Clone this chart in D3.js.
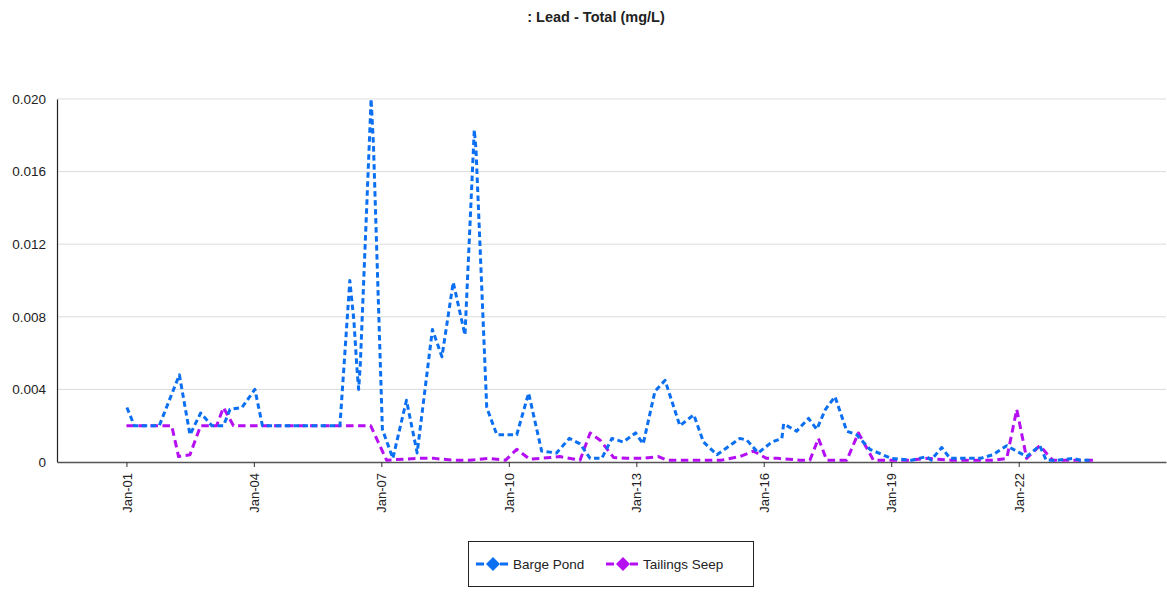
<!DOCTYPE html>
<html>
<head>
<meta charset="utf-8">
<script src="https://cdn.jsdelivr.net/npm/d3@7"></script>
<style>
body {margin: 0; background: #fff;}
text {font-family: "Liberation Sans", Arial, sans-serif;}
.grid line {stroke: #dcdcdc;}
</style>
</head>
<body>
<svg id="chart"></svg>
<script>
//data//
var chartTitle = ": Lead - Total (mg/L)";
var seriesNames = ["Barge Pond", "Tailings Seep"];
var seriesColors = ["#0b6ff2", "#b50ef2"];

var bargeDates = ["2001-01-05","2001-03-10","2001-10-10","2002-04-01","2002-07-01","2002-10-01","2003-01-05","2003-04-15","2003-06-10","2003-09-20","2004-01-10","2004-03-15","2004-07-01","2005-01-01","2005-07-01","2006-01-10","2006-04-05","2006-05-10","2006-06-05","2006-06-20","2006-07-05","2006-10-05","2006-10-25","2007-01-10","2007-04-10","2007-08-05","2007-11-05","2008-03-15","2008-06-05","2008-09-10","2008-12-20","2009-03-10","2009-03-25","2009-06-25","2009-09-20","2010-01-10","2010-03-10","2010-06-20","2010-10-10","2011-02-15","2011-06-05","2011-09-05","2011-12-01","2012-03-10","2012-06-05","2012-09-10","2012-12-25","2013-03-01","2013-06-10","2013-09-05","2014-01-10","2014-05-10","2014-08-01","2014-11-25","2015-06-10","2015-08-10","2015-11-15","2016-03-10","2016-06-05","2016-06-20","2016-10-10","2017-01-20","2017-04-01","2017-06-15","2017-09-05","2017-12-15","2018-03-10","2018-07-01","2019-01-01","2019-06-25","2019-11-01","2019-12-10","2020-03-10","2020-05-20","2021-02-05","2021-05-25","2021-09-20","2022-01-10","2022-03-10","2022-07-01","2022-08-25","2022-12-01","2023-04-15","2023-06-15","2023-09-01"];
var bargeValues = [0.003,0.002,0.002,0.0048,0.0015,0.0027,0.002,0.002,0.0029,0.003,0.004,0.002,0.002,0.002,0.002,0.002,0.010,0.0078,0.0052,0.004,0.0055,0.020,0.0175,0.0018,0.0002,0.0034,0.0005,0.0073,0.0058,0.0099,0.007,0.0183,0.0172,0.003,0.0015,0.0015,0.0015,0.0038,0.0006,0.0005,0.0013,0.001,0.0002,0.0002,0.0013,0.0011,0.0016,0.001,0.0039,0.0045,0.002,0.0026,0.0011,0.0004,0.0013,0.0012,0.0005,0.0011,0.0013,0.0021,0.0017,0.0024,0.0018,0.0029,0.0036,0.0017,0.0015,0.0007,0.0002,0.0001,0.0003,0.0001,0.0008,0.0002,0.0002,0.0004,0.0009,0.0005,0.0003,0.0009,0.0001,0.0001,0.0002,0.0001,0.0001];

var seepDates = ["2001-01-01","2002-01-25","2002-03-25","2002-07-01","2002-10-01","2003-02-15","2003-04-15","2003-07-10","2004-01-01","2005-01-01","2006-01-01","2006-10-01","2007-02-15","2007-11-01","2008-04-01","2008-09-01","2009-02-01","2009-07-01","2009-12-05","2010-03-10","2010-07-01","2010-12-25","2011-03-15","2011-09-05","2011-12-01","2012-02-25","2012-06-20","2012-10-10","2013-03-01","2013-07-10","2013-09-20","2014-06-01","2015-01-01","2015-06-10","2015-10-05","2016-01-25","2016-05-01","2016-11-10","2017-02-01","2017-04-15","2017-06-25","2017-12-15","2018-03-25","2018-08-01","2019-06-01","2019-11-01","2020-06-01","2021-06-01","2021-09-20","2021-12-15","2022-03-10","2022-07-01","2022-10-20","2023-10-25"];
var seepValues = [0.002,0.002,0.0003,0.0004,0.002,0.002,0.003,0.002,0.002,0.002,0.002,0.002,0.0001,0.0002,0.0002,0.0001,0.0001,0.0002,0.0001,0.0007,0.00015,0.00025,0.0003,0.0001,0.0016,0.0012,0.00025,0.0002,0.0002,0.0003,0.0001,0.0001,0.0001,0.0003,0.0006,0.0002,0.0002,0.0001,0.0001,0.0013,0.0001,0.0001,0.0016,0.0001,0.0001,0.0002,0.0001,0.0001,0.0002,0.0029,0.0002,0.0009,0.0001,0.0001];

var yTicks = [0, 0.004, 0.008, 0.012, 0.016, 0.020];
var xTickDates = ["2001-01-01","2004-01-01","2007-01-01","2010-01-01","2013-01-01","2016-01-01","2019-01-01","2022-01-01"];
var xDomain = ["1999-05-15", "2025-06-20"];

//variables//
var screen = {width: 1167, height: 592}
var plot = {left: 57, right: 1166, top: 99, bottom: 462}

var parseDate = d3.timeParse("%Y-%m-%d");

var xScale = d3.scaleTime()
               .domain(xDomain.map(parseDate))
               .range([plot.left, plot.right]);

var yScale = d3.scaleLinear()
               .domain([0, 0.020])
               .range([plot.bottom, plot.top]);

var series = [
    {name: seriesNames[0], color: seriesColors[0], dash: "5.5,3.5",
     points: bargeDates.map(function(d, i) { return {date: parseDate(d), value: bargeValues[i]}; })},
    {name: seriesNames[1], color: seriesColors[1], dash: "7.5,4.5",
     points: seepDates.map(function(d, i) { return {date: parseDate(d), value: seepValues[i]}; })}
];

var svg = d3.select("#chart")
            .attr("width", screen.width)
            .attr("height", screen.height);

//title//
svg.append("text")
   .attr("x", 596)
   .attr("y", 22)
   .attr("text-anchor", "middle")
   .style("font-size", "14.5px")
   .style("font-weight", "bold")
   .style("fill", "#222")
   .text(chartTitle);

//grid lines//
svg.append("g")
   .attr("class", "grid")
   .selectAll("line")
   .data(yTicks.slice(1))
   .enter()
   .append("line")
   .attr("x1", plot.left)
   .attr("x2", plot.right)
   .attr("y1", function(d) { return yScale(d); })
   .attr("y2", function(d) { return yScale(d); });

//y axis//
var yAxis = svg.append("g")
               .attr("transform", "translate(" + plot.left + ",0)")
               .call(d3.axisLeft(yScale)
                       .tickValues(yTicks)
                       .tickSize(0)
                       .tickPadding(11)
                       .tickFormat(function(d) { return d === 0 ? "0" : d3.format(".3f")(d); }));
yAxis.select(".domain").attr("stroke", "#222").attr("stroke-width", 1.2);
yAxis.selectAll("text")
     .style("font-size", "13.5px")
     .style("fill", "#222")
     .style("font-family", "'Liberation Sans', Arial, sans-serif");

//x axis//
var xAxis = svg.append("g")
               .attr("transform", "translate(0," + plot.bottom + ")")
               .call(d3.axisBottom(xScale)
                       .tickValues(xTickDates.map(parseDate))
                       .tickSize(5)
                       .tickSizeOuter(0)
                       .tickFormat(d3.timeFormat("%b-%y")));
xAxis.select(".domain").attr("stroke", "#555").attr("stroke-width", 1.5);
xAxis.selectAll(".tick line").attr("stroke", "#333");
xAxis.selectAll("text")
     .attr("transform", "rotate(-90)")
     .attr("text-anchor", "end")
     .attr("x", -11)
     .attr("y", 0)
     .attr("dy", "0.35em")
     .style("font-size", "13px")
     .style("fill", "#222")
     .style("font-family", "'Liberation Sans', Arial, sans-serif");

//lines//
var line = d3.line()
             .x(function(d) { return xScale(d.date); })
             .y(function(d) { return yScale(d.value); });

svg.append("g")
   .selectAll("path")
   .data(series.slice().reverse())
   .enter()
   .append("path")
   .attr("d", function(d) { return line(d.points); })
   .style("fill", "none")
   .style("stroke", function(d) { return d.color; })
   .style("stroke-width", 3)
   .style("stroke-dasharray", function(d) { return d.dash; })
   .style("stroke-linejoin", "round");

//legend//
var legend = svg.append("g").attr("transform", "translate(468,541)");
legend.append("rect")
      .attr("x", 0.5)
      .attr("y", 0.5)
      .attr("width", 285)
      .attr("height", 45)
      .style("fill", "#fff")
      .style("stroke", "#222")
      .style("stroke-width", 1);

var items = legend.selectAll("g.item")
                  .data(series)
                  .enter()
                  .append("g")
                  .attr("class", "item")
                  .attr("transform", function(d, i) { return "translate(" + (8 + i * 130) + ",23)"; });
items.append("line")
     .attr("x1", 0)
     .attr("x2", 34)
     .style("stroke", function(d) { return d.color; })
     .style("stroke-width", 3)
     .style("stroke-dasharray", "8,4");
items.append("path")
     .attr("d", "M17,-7L24,0L17,7L10,0Z")
     .style("fill", function(d) { return d.color; });
items.append("text")
     .attr("x", 37)
     .attr("y", 0)
     .attr("dy", "0.35em")
     .style("font-size", "13.5px")
     .style("fill", "#222")
     .text(function(d) { return d.name; });
</script>
</body>
</html>
